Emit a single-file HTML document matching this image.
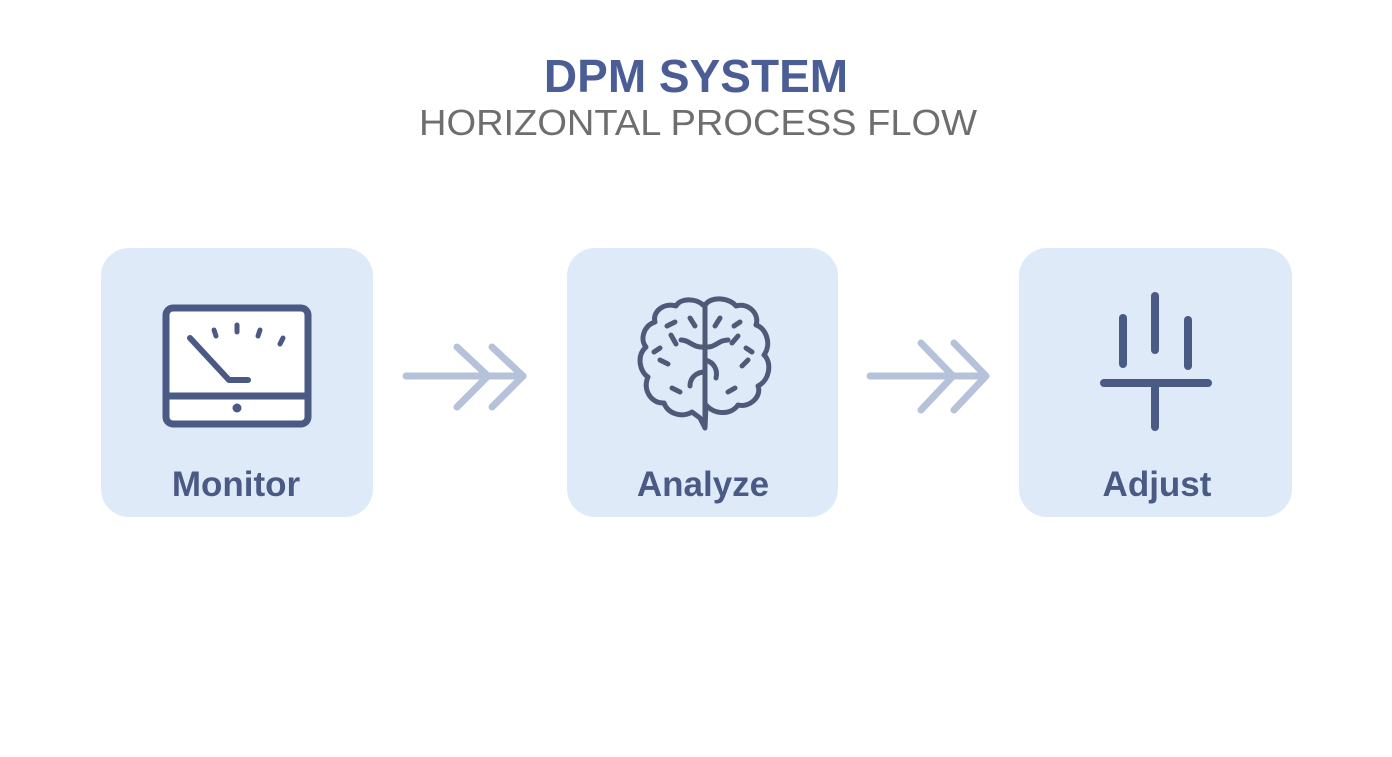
<!DOCTYPE html>
<html><head><meta charset="utf-8"><style>
html,body{margin:0;padding:0;background:#fff;}
body{width:1392px;height:752px;position:relative;overflow:hidden;font-family:"Liberation Sans",sans-serif;}
</style></head><body>
<svg width="1392" height="752" viewBox="0 0 1392 752" xmlns="http://www.w3.org/2000/svg">
<text x="696" y="92" text-anchor="middle" font-family="Liberation Sans" font-weight="bold" font-size="46" fill="#4a5e95">DPM SYSTEM</text>
<text x="698" y="135" text-anchor="middle" font-family="Liberation Sans" font-size="36" fill="#6e6e6e" textLength="558" lengthAdjust="spacingAndGlyphs">HORIZONTAL PROCESS FLOW</text>

<rect x="101" y="248" width="272" height="269" rx="28" fill="#dfeaf9"/>
<rect x="567" y="248" width="271" height="269" rx="28" fill="#dfeaf9"/>
<rect x="1019" y="248" width="273" height="269" rx="28" fill="#dfeaf9"/>

<g stroke="#4b5a85" fill="none" stroke-linecap="round" stroke-linejoin="round">
<rect x="166" y="308" width="142" height="116" rx="7" stroke-width="7" fill="#fff"/>
<line x1="166" y1="396" x2="308" y2="396" stroke-width="7"/>
<polyline points="190,338 229,380 248,380" stroke-width="6"/>
<line x1="214" y1="330" x2="216" y2="336" stroke-width="5"/>
<line x1="237" y1="325" x2="237" y2="332" stroke-width="5"/>
<line x1="260" y1="330" x2="258" y2="336" stroke-width="5"/>
<line x1="283" y1="338" x2="280" y2="344" stroke-width="5"/>
</g>
<circle cx="237" cy="408" r="4.5" fill="#4b5a85"/>

<g stroke="#b6c2da" stroke-width="7" fill="none" stroke-linecap="round" stroke-linejoin="round">
<line x1="406" y1="376" x2="523" y2="376"/>
<polyline points="457,347 488,376 457,407"/>
<polyline points="492,347 523,376 492,407"/>
<line x1="870" y1="376" x2="986" y2="376"/>
<polyline points="921,343 953,376 921,410"/>
<polyline points="954,343 986,376 954,410"/>
</g>

<g stroke="#4e5a78" stroke-width="5" fill="none" stroke-linecap="round" stroke-linejoin="round">
<path d="M703,305 C696,298 680,298 676,306 C664,302 652,312 655,322 C643,326 640,340 646,347 C636,356 640,372 648,377 C642,390 652,404 664,403 C668,414 682,418 692,412 L700,418 L705,428 L706,405 C716,416 732,414 738,405 C750,408 762,396 758,386 C770,380 772,362 764,355 C772,344 766,328 756,325 C760,314 748,302 736,306 C730,298 712,296 706,304 Z"/>
<path d="M705,305 L705,420"/>
<path d="M681,340 C690,340 692,348 705,347 C716,348 718,340 728,340"/>
<path d="M705,372 C696,372 690,378 690,386"/>
<path d="M705,360 C714,362 718,370 716,378"/>
<path d="M667,326 L675,322 M671,335 L676,344"/>
<path d="M734,326 L740,322 M738,336 L732,343"/>
<path d="M660,360 L668,364 M654,352 L660,348"/>
<path d="M748,360 L742,366 M752,352 L746,348"/>
<path d="M672,388 L680,392 M735,388 L728,392"/>
<path d="M690,318 L695,326 M720,318 L715,326"/>
</g>

<g stroke="#4b5a85" stroke-width="8" stroke-linecap="round">
<line x1="1123" y1="318" x2="1123" y2="364"/>
<line x1="1155" y1="296" x2="1155" y2="350"/>
<line x1="1188" y1="320" x2="1188" y2="366"/>
<line x1="1104" y1="383" x2="1208" y2="383"/>
<line x1="1155" y1="383" x2="1155" y2="427"/>
</g>

<g font-family="Liberation Sans" font-weight="bold" font-size="35" fill="#4b5a85" text-anchor="middle">
<text x="236" y="496">Monitor</text>
<text x="703" y="496">Analyze</text>
<text x="1157" y="496">Adjust</text>
</g>
</svg>
</body></html>
